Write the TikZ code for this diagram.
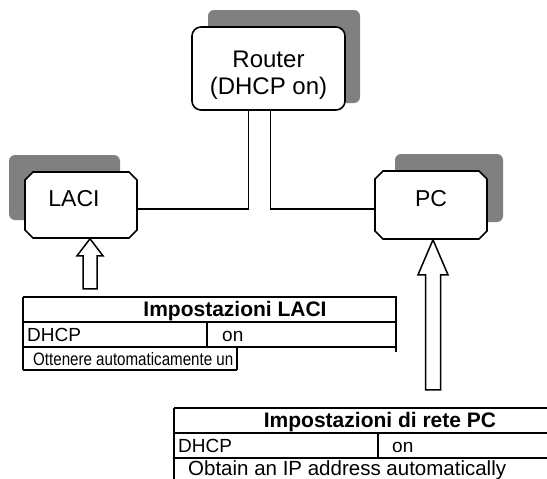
\documentclass[tikz,border=0pt]{standalone}
\usepackage{fontspec}
\setmainfont{Liberation Sans}
\usetikzlibrary{shapes.misc}

\tikzset{
  device/.style={draw, line width=1.6pt, fill=white, chamfered rectangle,
    chamfered rectangle xsep=4pt, chamfered rectangle ysep=4pt,
    text height=17pt, text depth=15pt, font=\fontsize{23}{27}\selectfont},
  shade/.style={fill=black!50, rounded corners=6pt},
  link/.style={line width=1.3pt},
  blockarrow/.style={draw, line width=1.5pt, fill=white, line join=miter},
  grid/.style={line width=1.6pt},
  cell/.style={anchor=base west, inner sep=0pt, font=\fontsize{19}{22}\selectfont},
  headcell/.style={anchor=base, inner sep=0pt, font=\fontsize{21}{24}\selectfont\bfseries}
}

\begin{document}
\begin{tikzpicture}[x=1pt, y=-1pt]
  \useasboundingbox (0,0) rectangle (547,479);

  % shadows behind the boxes
  \fill[shade] (208,10) rectangle (360,103);
  \fill[shade] (9,155) rectangle (120,220);
  \fill[shade] (395,154) rectangle (503,222);

  % devices
  \node[draw, line width=1.6pt, fill=white, rounded corners=9pt, minimum width=153pt,
        minimum height=83pt] (router) at (268.5,68.5) {};
  \node[align=center, font=\fontsize{24}{27}\selectfont] (routerText)
        at ([yshift=-7pt]router.center) {Router\\(DHCP on)};
  \node[device, minimum width=112pt, minimum height=66pt] (laci) at (81,205) {LACI\hspace*{14pt}};
  \node[device, minimum width=112pt, minimum height=68pt] (pc) at (431,205) {PC};

  % cables
  \draw[link] ([xshift=-20pt]router.south) |- ([yshift=-4pt]laci.east);
  \draw[link] ([xshift=2pt]router.south) |- ([yshift=-4pt]pc.west);

  % settings arrows
  \draw[blockarrow] ([xshift=9pt]laci.south) -- ++(13,17) -- ++(-6,0) -- ++(0,33)
    -- ++(-14,0) -- ++(0,-33) -- ++(-6,0) -- cycle;
  \draw[blockarrow] ([xshift=2pt]pc.south) -- ++(15,35) -- ++(-7.5,0) -- ++(0,115)
    -- ++(-15,0) -- ++(0,-115) -- ++(-7.5,0) -- cycle;

  % LACI settings table
  \draw[grid] (23,297) -- (397,297) (23,322) -- (397,322) (23,347) -- (397,347)
    (23,370) -- (237,370) (23,297) -- (23,370) (396,297) -- (396,352)
    (207,322) -- (207,347) (237,347) -- (237,370);
  \node[headcell] (laciHead) at (235,316) {Impostazioni LACI};
  \node[cell, font=\fontsize{18}{21}\selectfont] (laciObtain) at (33,365)
        {\scalebox{0.84}[1]{Ottenere automaticamente un}};
  \node[cell] (laciDhcp) at (27,341) {DHCP};
  \node[cell] (laciOn) at (222,341) {on};

  % PC settings table
  \draw[grid] (174,408) -- (547,408) (174,433) -- (547,433) (174,458) -- (547,458)
    (174,408) -- (174,479) (378,433) -- (378,458);
  \node[headcell] (pcHead) at (380,427) {Impostazioni di rete PC};
  \node[cell] (pcDhcp) at (178,452) {DHCP};
  \node[cell] (pcOn) at (392,452) {on};
  \node[cell, font=\fontsize{20.5}{24}\selectfont] (pcObtain) at (188,475.5)
        {Obtain an IP address automatically};
\end{tikzpicture}
\end{document}
